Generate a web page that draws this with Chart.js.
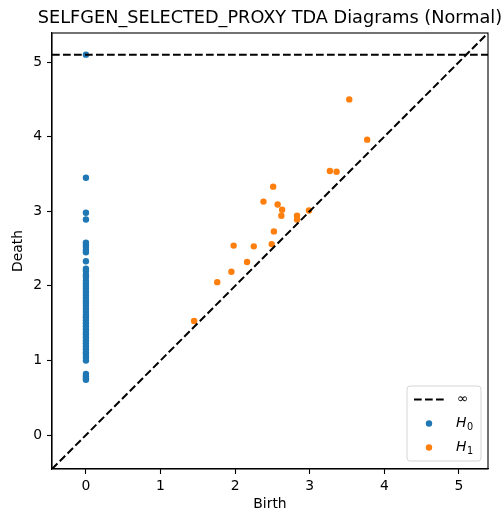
<!DOCTYPE html>
<html>
<head>
<meta charset="utf-8">
<script src="https://cdn.jsdelivr.net/npm/chart.js@4"></script>
<style>
  html, body { margin: 0; padding: 0; background: #fff; }
  #wrap { width: 504px; height: 514px; }
</style>
</head>
<body>
<div id="wrap"><canvas id="tda"></canvas></div>
<script>
// persistence diagram values
const h0Birth = [0, 0, 0, 0, 0, 0, 0, 0, 0, 0, 0, 0, 0, 0, 0, 0, 0, 0, 0, 0, 0, 0, 0, 0,
  0, 0, 0, 0, 0, 0, 0, 0, 0, 0, 0, 0, 0, 0, 0, 0, 0, 0, 0, 0, 0, 0, 0];
const h0Death = [5.10, 3.45, 2.98, 2.89, 2.58, 2.55, 2.52, 2.48, 2.45, 2.33, 2.23, 2.20,
  2.15, 2.12, 2.07, 2.03, 1.99, 1.96, 1.92, 1.88, 1.84, 1.80, 1.77, 1.73, 1.69, 1.65,
  1.61, 1.58, 1.54, 1.50, 1.46, 1.42, 1.38, 1.35, 1.31, 1.27, 1.23, 1.19, 1.15, 1.11,
  1.08, 1.04, 1.00, 0.82, 0.79, 0.76, 0.74];

const h1Birth = [3.53, 3.77, 3.27, 3.36, 2.51, 2.38, 2.57, 2.63, 2.62, 2.83, 2.83, 2.99,
  2.52, 1.98, 2.25, 2.49, 2.16, 1.95, 1.76, 1.45];
const h1Death = [4.50, 3.96, 3.54, 3.53, 3.33, 3.13, 3.09, 3.02, 2.94, 2.94, 2.89, 3.01,
  2.73, 2.54, 2.53, 2.56, 2.32, 2.19, 2.05, 1.53];

const infValue = 5.1;
const axisMin = -0.455;
const axisMax = 5.39;
const titleText = 'SELFGEN_SELECTED_PROXY TDA Diagrams (Normal)';
const legendLabels = ['∞', 'H', 'H'];
const legendSubs = ['', '0', '1'];

const BLUE = '#1f77b4';
const ORANGE = '#ff7f0e';
const FONT = 'DejaVu Sans';

const toPoints = (xs, ys) => xs.map((x, i) => ({ x: x, y: ys[i] }));

// title centred over the axes, top/right spines, legend box
const framePlugin = {
  id: 'frame',
  afterDraw(chart) {
    const { ctx, chartArea: a } = chart;
    ctx.save();

    ctx.fillStyle = '#000';
    ctx.font = '17.7px "' + FONT + '"';
    ctx.textAlign = 'center';
    ctx.textBaseline = 'middle';
    ctx.fillText(titleText, (a.left + a.right) / 2, 18);

    ctx.strokeStyle = '#000';
    ctx.lineWidth = 1.1;
    ctx.strokeRect(a.left, a.top, a.right - a.left, a.bottom - a.top);

    // legend
    const bx = 407, by = 386, bw = 74, bh = 75, r = 3;
    ctx.beginPath();
    ctx.roundRect(bx, by, bw, bh, r);
    ctx.fillStyle = 'rgba(255,255,255,0.8)';
    ctx.fill();
    ctx.strokeStyle = '#d6d6d6';
    ctx.lineWidth = 1;
    ctx.stroke();

    const rows = [399.5, 423.5, 447.5];
    const colors = ['#000', BLUE, ORANGE];
    rows.forEach((y, i) => {
      if (i === 0) {
        ctx.beginPath();
        ctx.setLineDash([7.7, 3.3]);
        ctx.strokeStyle = '#000';
        ctx.lineWidth = 2;
        ctx.moveTo(414, y);
        ctx.lineTo(444, y);
        ctx.stroke();
        ctx.setLineDash([]);
      } else {
        ctx.beginPath();
        ctx.arc(429, y, 3.2, 0, Math.PI * 2);
        ctx.fillStyle = colors[i];
        ctx.fill();
      }
      ctx.fillStyle = '#000';
      ctx.textBaseline = 'middle';
      ctx.textAlign = 'left';
      if (legendSubs[i] === '') {
        ctx.font = '13.9px "' + FONT + '"';
        ctx.fillText(legendLabels[i], 457, y);
      } else {
        ctx.font = 'italic 13.9px "' + FONT + '"';
        ctx.fillText(legendLabels[i], 456, y);
        const w = ctx.measureText(legendLabels[i]).width;
        ctx.font = '9.7px "' + FONT + '"';
        ctx.fillText(legendSubs[i], 456 + w + 0.5, y + 4);
      }
    });
    ctx.restore();
  }
};

new Chart(document.getElementById('tda'), {
  type: 'scatter',
  data: {
    datasets: [
      {
        label: 'diagonal',
        data: [{ x: axisMin, y: axisMin }, { x: axisMax, y: axisMax }],
        showLine: true,
        borderColor: '#000',
        borderWidth: 2,
        borderDash: [7.7, 3.3],
        pointRadius: 0,
        pointHoverRadius: 0
      },
      {
        label: '∞',
        data: [{ x: axisMin, y: infValue }, { x: axisMax, y: infValue }],
        showLine: true,
        borderColor: '#000',
        borderWidth: 2,
        borderDash: [7.7, 3.3],
        pointRadius: 0,
        pointHoverRadius: 0
      },
      {
        label: 'H0',
        data: toPoints(h0Birth, h0Death),
        backgroundColor: BLUE,
        borderWidth: 0,
        pointRadius: 3.2
      },
      {
        label: 'H1',
        data: toPoints(h1Birth, h1Death),
        backgroundColor: ORANGE,
        borderWidth: 0,
        pointRadius: 3.2
      }
    ]
  },
  options: {
    responsive: true,
    maintainAspectRatio: false,
    animation: false,
    layout: { padding: { left: 0, right: 16, top: 33, bottom: 0 } },
    plugins: {
      legend: { display: false },
      tooltip: { enabled: false },
      title: { display: false }
    },
    scales: {
      x: {
        type: 'linear',
        min: axisMin,
        max: axisMax,
        afterFit: (s) => { s.height = 45; },
        ticks: {
          stepSize: 1,
          includeBounds: false,
          color: '#000',
          padding: 4,
          font: { family: FONT, size: 13.9 }
        },
        grid: { drawOnChartArea: false, tickLength: 5, tickColor: '#000', tickWidth: 1.1 },
        border: { display: true, color: '#000', width: 1.1 },
        title: {
          display: true,
          text: 'Birth',
          color: '#000',
          font: { family: FONT, size: 13.9 },
          padding: { top: 0, bottom: 1 }
        }
      },
      y: {
        type: 'linear',
        min: axisMin,
        max: axisMax,
        afterFit: (s) => { s.width = 52; },
        ticks: {
          stepSize: 1,
          includeBounds: false,
          color: '#000',
          padding: 5,
          font: { family: FONT, size: 13.9 }
        },
        grid: { drawOnChartArea: false, tickLength: 5, tickColor: '#000', tickWidth: 1.1 },
        border: { display: true, color: '#000', width: 1.1 },
        title: {
          display: true,
          text: 'Death',
          color: '#000',
          font: { family: FONT, size: 13.9 },
          padding: { top: 10, bottom: 0 }
        }
      }
    }
  },
  plugins: [framePlugin]
});
</script>
</body>
</html>
